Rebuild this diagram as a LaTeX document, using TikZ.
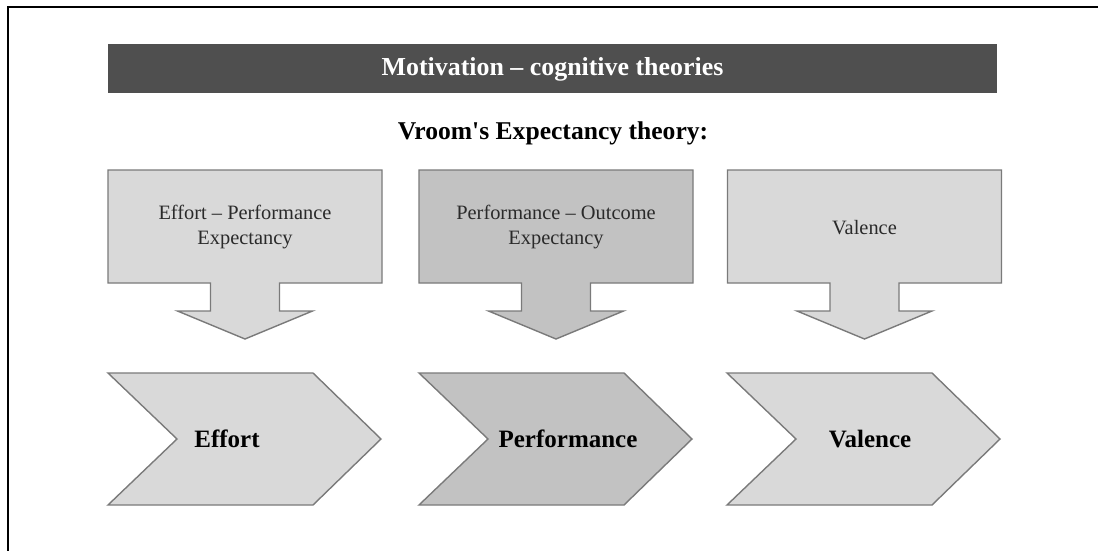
\documentclass[tikz,border=0pt]{standalone}
\usepackage{fontspec}
\setmainfont{Liberation Serif}
% same face without the TeX input mapping, so ' stays a straight quote
\newfontfamily\plainserif[Ligatures=TeXOff]{Liberation Serif}
\begin{document}
\begin{tikzpicture}[x=1pt,y=-1pt,
  frameline/.style={line width=2.5pt,black},
  banner/.style={fill=bannergray,draw=none},
  lightshape/.style={fill=lightfill,draw=edgegray,line width=1.4pt,line join=miter},
  darkshape/.style={fill=darkfill,draw=edgegray,line width=1.4pt,line join=miter},
  calltext/.style={font=\fontsize{20.4}{25}\selectfont,text=textgray,align=center},
  chevtext/.style={font=\fontsize{25}{30}\selectfont\bfseries,text=black},
  titletext/.style={font=\fontsize{25.9}{30}\selectfont\bfseries,text=white},
  subtext/.style={font=\plainserif\fontsize{25.6}{30}\selectfont\bfseries,text=black}]
\definecolor{bannergray}{HTML}{4F4F4F}
\definecolor{lightfill}{HTML}{D9D9D9}
\definecolor{darkfill}{HTML}{C2C2C2}
\definecolor{edgegray}{HTML}{7A7A7A}
\definecolor{textgray}{HTML}{2A2A2A}
\useasboundingbox (0,0) rectangle (1098,551);

% outer frame (top and left edges only)
\draw[frameline] (7,7) -- (1098,7);
\draw[frameline] (8,7) -- (8,551);

% title banner
\fill[banner] (108,44) rectangle (997,93);
\node[titletext] (title) at (552.5,69) {Motivation -- cognitive theories};
\node[subtext] (sub) at (553,133) {Vroom's Expectancy theory:};

% callout boxes: centre c, box 137 half width, stem 34.5, head 67.5
\newcommand\calloutpath[2]{%
  \draw[#2] ({#1-137},170) -- ({#1+137},170) -- ({#1+137},283) -- ({#1+34.5},283)
    -- ({#1+34.5},311) -- ({#1+67.5},311) -- (#1,339) -- ({#1-67.5},311)
    -- ({#1-34.5},311) -- ({#1-34.5},283) -- ({#1-137},283) -- cycle;}
\calloutpath{245}{lightshape}
\calloutpath{556}{darkshape}
\calloutpath{864.5}{lightshape}
\node[calltext] (epe) at (245,227.5) {Effort -- Performance\\Expectancy};
\node[calltext] (poe) at (556,227.5) {Performance -- Outcome\\Expectancy};
\node[calltext] (val) at (864.5,228) {Valence};

% chevrons: left edge L
\newcommand\chevronpath[2]{%
  \draw[#2] (#1,373) -- ({#1+205},373) -- ({#1+273},439) -- ({#1+205},505)
    -- (#1,505) -- ({#1+69},439) -- cycle;}
\chevronpath{108}{lightshape}
\chevronpath{419}{darkshape}
\chevronpath{727}{lightshape}
\node[chevtext] (effort) at (227,439) {Effort};
\node[chevtext] (perf) at (568,439) {Performance};
\node[chevtext] (valence) at (870,439) {Valence};
\end{tikzpicture}
\end{document}
